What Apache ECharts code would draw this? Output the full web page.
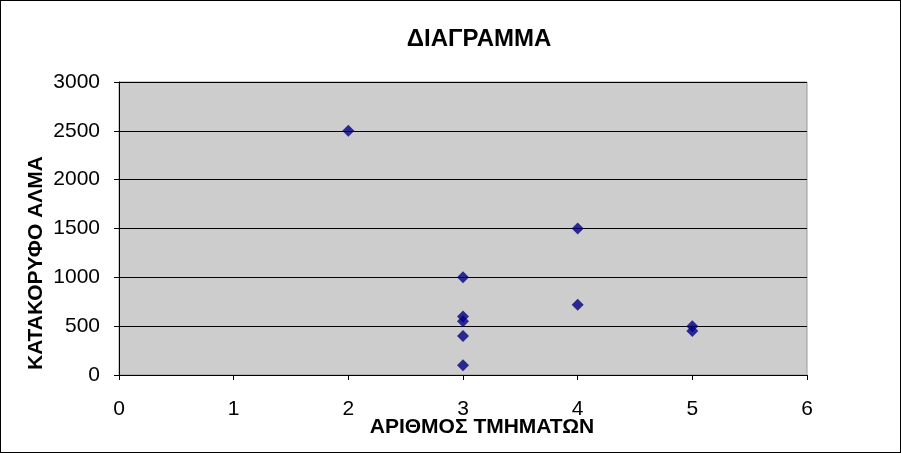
<!DOCTYPE html>
<html>
<head>
    <meta charset="UTF-8">
    <title>ΔΙΑΓΡΑΜΜΑ</title>
    <script type="text/javascript" src="https://cdn.jsdelivr.net/npm/echarts@6/dist/echarts.min.js"></script>
    <style>
        html, body { margin: 0; padding: 0; background: #fff; }
        #chart { width: 899px; height: 451px; border: 1px solid #000; }
    </style>
</head>
<body>
<div id="chart"></div>
<script type="text/javascript">
    // τιμές από το διάγραμμα
    var tmimata = [2, 3, 3, 3, 3, 3, 4, 4, 5, 5];
    var alma = [2500, 1000, 600, 550, 400, 100, 1500, 720, 500, 450];
    var xTicks = [0, 1, 2, 3, 4, 5, 6];
    var yTicks = [0, 500, 1000, 1500, 2000, 2500, 3000];

    var points = [];
    for (var i = 0; i < tmimata.length; i++) {
        points.push([tmimata[i], alma[i]]);
    }

    var myChart = echarts.init(document.getElementById('chart'));
    var font = 'Liberation Sans, Arial, sans-serif';
    var nameStyle = { fontFamily: font, fontSize: 21, fontWeight: 'bold', fill: '#000',
                      align: 'center', verticalAlign: 'middle' };
    var option = {
        animation: false,
        backgroundColor: '#fff',
        title: {
            text: 'ΔΙΑΓΡΑΜΜΑ',
            left: 473,
            top: 21,
            textAlign: 'center',
            textStyle: { fontFamily: font, fontSize: 24, fontWeight: 'bold', color: '#000' }
        },
        grid: {
            left: 118, top: 81, width: 688, height: 293,
            show: true, backgroundColor: '#cdcdcd', borderColor: '#999', borderWidth: 1
        },
        // ονόματα αξόνων σαν κείμενα, για να μπουν όπου είναι στο πρωτότυπο
        graphic: [
            { type: 'text', x: 481, y: 426, style: Object.assign({ text: 'ΑΡΙΘΜΟΣ ΤΜΗΜΑΤΩΝ' }, nameStyle) },
            { type: 'text', x: 35, y: 262, rotation: Math.PI / 2,
              style: Object.assign({ text: 'ΚΑΤΑΚΟΡΥΦΟ ΑΛΜΑ' }, nameStyle) }
        ],
        xAxis: {
            type: 'value',
            min: xTicks[0], max: xTicks[xTicks.length - 1], interval: 1,
            axisLine: { show: true, lineStyle: { color: '#000', width: 1 } },
            axisTick: { show: true, inside: false, length: 5, lineStyle: { color: '#000' } },
            axisLabel: { fontFamily: font, fontSize: 21, color: '#000', margin: 24 },
            splitLine: { show: false }
        },
        yAxis: {
            type: 'value',
            min: yTicks[0], max: yTicks[yTicks.length - 1], interval: 500,
            axisLine: { show: true, lineStyle: { color: '#000', width: 1 } },
            axisTick: { show: true, inside: false, length: 5, lineStyle: { color: '#000' } },
            axisLabel: {
                fontFamily: font, fontSize: 21, color: '#000', margin: 19,
                formatter: function (v) { return String(v); }
            },
            splitLine: { show: true, lineStyle: { color: '#000', width: 1 } }
        },
        series: [{
            type: 'scatter',
            data: points,
            symbol: 'diamond',
            symbolSize: 12,
            itemStyle: { color: '#000080' }
        }]
    };
    myChart.setOption(option);
</script>
</body>
</html>
